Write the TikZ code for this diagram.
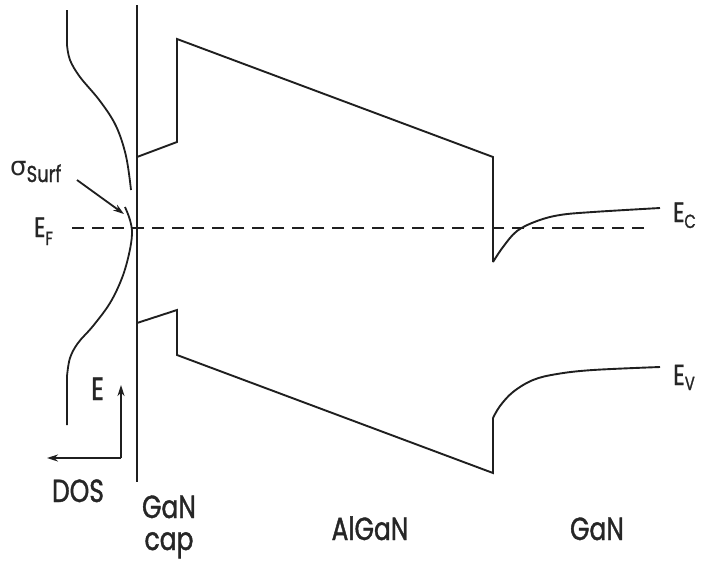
\documentclass[tikz,border=0pt]{standalone}
\usepackage{fontspec}
\setmainfont{Poppins}[FakeStretch=0.78,FakeBold=1.2]
\newfontfamily\greekfont{DejaVu Sans}
\usetikzlibrary{arrows.meta}

% label with a lowered subscript in the same family
\newcommand{\sublabel}[4]{{\fontsize{#3}{#3}\selectfont #1}\raisebox{-#4pt}{\fontsize{19}{19}\selectfont #2}}

\begin{document}
\begin{tikzpicture}[x=1pt,y=-1pt,
  band/.style={line width=1.9pt,color=black!88,line join=miter},
  dos/.style={line width=1.8pt,color=black!88},
  fermi/.style={line width=1.8pt,color=black!88,dash pattern=on 12pt off 8pt},
  axisarrow/.style={line width=1.8pt,color=black!88,-{Stealth[length=11pt,width=7pt]}},
  lbl/.style={inner sep=0pt,font=\fontsize{32}{34}\selectfont,text=black!85},
  elbl/.style={inner sep=0pt,anchor=base west,text=black!85}]

\useasboundingbox (0,0) rectangle (706,560);

% surface boundary
\draw[line width=2.6pt,color=black!88] (137,5) -- (137,482);

% conduction band edge
\draw[band] (137,157) -- (177,142) -- (177,39) -- (493,157) -- (493,262)
  plot[smooth,tension=0.6] coordinates {(493,262) (503,247) (517,231) (537,221) (560,215) (593,212) (660,208)};

% valence band edge
\draw[band] (137,323) -- (177,310) -- (177,355) -- (493,473) -- (493,418)
  plot[smooth,tension=0.6] coordinates {(493,418) (500,406) (513,392) (533,380) (557,374) (593,370) (660,367)};

% Fermi level
\draw[fermi] (72,228) -- (646,228);

% surface density of states
\draw[dos] (67,10) -- (67,45)
  plot[smooth,tension=0.6] coordinates {(67,45) (70,60) (80,77) (100,101) (116,126) (126,156) (131,190)};
\draw[dos] plot[smooth,tension=0.6] coordinates {(125,207) (130,220) (132,234) (129,254) (122,278) (110,303) (93,326) (78,343) (70,358) (67,376)}
  -- (67,425);

% energy / DOS axes
\coordinate (origin) at (121,458);
\coordinate (etip) at (121,385);
\coordinate (dostip) at (47,458);
\draw[axisarrow] (origin) -- (etip);
\draw[axisarrow] (origin) -- (dostip);

\node[lbl,anchor=base west] (elab) at (91,400) {E};
\node[lbl,anchor=base] (doslab) at (78,502) {DOS};

% level labels
\node[elbl] (ef) at (34,237) {\sublabel{E}{F}{28}{8}};
\node[elbl] (ec) at (673,222) {\sublabel{E}{C}{28}{6}};
\node[elbl] (ev) at (673,385) {\sublabel{E}{V}{29}{5}};

% surface charge label and pointer
\node[elbl] (sigma) at (10,175) {{\greekfont\fontsize{26}{26}\selectfont σ}\raisebox{-7pt}{\fontsize{23}{23}\selectfont Surf}};
\coordinate (sigmatip) at (124,214);
\draw[line width=1.8pt,color=black!88,-{Stealth[length=11pt,width=7pt]}] (77,180) -- (sigmatip);

% layer names
\node[lbl,anchor=base] (capa) at (169,518) {GaN};
\node[lbl,anchor=base] (capb) at (169,550) {cap};
\node[lbl,anchor=base] (algan) at (370,540) {AlGaN};
\node[lbl,anchor=base] (gan) at (597,540) {GaN};

\end{tikzpicture}
\end{document}
